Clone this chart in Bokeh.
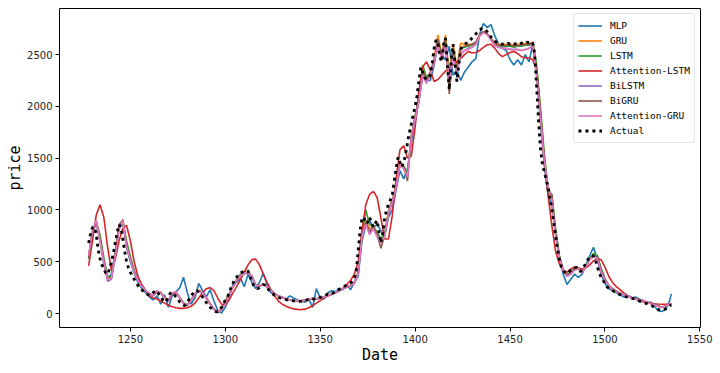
from bokeh.plotting import figure
from bokeh.models import FixedTicker, Range1d, Legend, LegendItem
from bokeh.embed import file_html
from bokeh.resources import INLINE

# ---- data ----
actual_dates = list(range(1228, 1536))
actual = [
    680, 770, 830, 835, 770, 620, 530, 470, 430, 390,
    380, 430, 500, 580, 680, 780, 860, 830, 720, 600,
    500, 440, 400, 360, 330, 300, 270, 250, 230, 210,
    195, 185, 175, 180, 200, 220, 215, 185, 160, 130,
    110, 120, 170, 195, 205, 185, 160, 140, 110, 90,
    80, 80, 110, 140, 170, 195, 215, 222, 205, 180,
    160, 130, 105, 85, 60, 45, 30, 18, 15, 35,
    60, 95, 130, 150, 200, 250, 290, 330, 350, 380,
    395, 400, 410, 415, 410, 360, 310, 265, 250, 240,
    250, 270, 280, 275, 250, 225, 205, 190, 175, 165,
    155, 150, 145, 140, 135, 130, 128, 125, 122, 120,
    118, 118, 118, 120, 122, 130, 140, 145, 142, 140,
    140, 145, 155, 165, 175, 180, 185, 180, 190, 200,
    215, 225, 235, 245, 255, 265, 275, 285, 295, 310,
    340, 420, 600, 800, 920, 930, 870, 880, 930, 880,
    835, 870, 900, 780, 680, 780, 930, 1000, 1060, 1100,
    1150, 1280, 1400, 1510, 1460, 1415, 1460, 1540, 1650, 1750,
    1830, 1920, 2000, 2100, 2250, 2380, 2330, 2280, 2260, 2280,
    2300, 2420, 2560, 2640, 2620, 2480, 2430, 2600, 2660, 2400,
    2160, 2450, 2600, 2420, 2240, 2400, 2550, 2580, 2600, 2610,
    2620, 2640, 2660, 2680, 2700, 2720, 2740, 2750, 2755, 2740,
    2720, 2700, 2670, 2650, 2630, 2620, 2610, 2605, 2600, 2605,
    2600, 2610, 2600, 2610, 2600, 2605, 2610, 2600, 2610, 2620,
    2610, 2620, 2615, 2625, 2610, 2510, 2190, 1870, 1600, 1450,
    1370, 1300, 1220, 1120, 1020, 880, 750, 620, 520, 450,
    415, 395, 385, 400, 420, 435, 440, 445, 430, 405,
    420, 455, 490, 520, 545, 560, 555, 520, 450, 390,
    350, 320, 290, 260, 245, 232, 222, 210, 200, 190,
    182, 175, 168, 162, 156, 150, 146, 143, 138, 130,
    122, 115, 109, 102, 95, 88, 80, 72, 62, 50,
    40, 32, 30, 35, 45, 60, 75, 82,
]

model_dates = list(range(1228, 1535, 2)) + [1535]

mlp = [
    530, 780, 880, 720, 480, 340, 380, 600, 840, 880,
    640, 500, 390, 300, 240, 200, 160, 130, 170, 90,
    180, 60, 170, 210, 250, 350, 200, 90, 150, 290,
    220, 160, 230, 120, 30, 5, 60, 150, 280, 300,
    340, 260, 380, 300, 240, 300, 390, 280, 200, 190,
    170, 160, 140, 170, 150, 130, 120, 110, 140, 60,
    240, 150, 140, 200, 220, 210, 240, 230, 280, 230,
    300, 360, 700, 850, 900, 830, 860, 800, 750, 930,
    1000, 1200, 1380, 1300, 1400, 1650, 1850, 2050, 2300, 2250,
    2250, 2400, 2600, 2500, 2450, 2580, 2300, 2350, 2250, 2330,
    2380, 2430, 2460, 2700, 2800, 2760, 2790, 2680, 2600, 2560,
    2540, 2450, 2400, 2450, 2400, 2500, 2430, 2600, 2300, 1850,
    1450, 1150, 1050, 800, 550, 380, 280, 330, 380, 350,
    380, 470, 560, 640, 520, 380, 290, 240, 220, 200,
    180, 160, 170, 150, 160, 140, 120, 100, 110, 70,
    30, 20, 40, 120, 190,
]

gru = [
    550, 790, 890, 710, 510, 340, 350, 570, 830, 910,
    660, 530, 410, 320, 265, 225, 190, 175, 215, 205,
    155, 120, 195, 210, 155, 100, 80, 130, 190, 225,
    205, 150, 95, 40, 15, 40, 115, 185, 255, 320,
    365, 385, 395, 360, 270, 265, 280, 255, 225, 190,
    170, 150, 140, 130, 125, 122, 122, 128, 140, 145,
    142, 148, 160, 175, 185, 200, 220, 240, 255, 270,
    295, 390, 760, 900, 820, 840, 780, 720, 760, 1000,
    1100, 1240, 1460, 1420, 1360, 1720, 1900, 2080, 2350, 2280,
    2330, 2460, 2690, 2500, 2690, 2300, 2600, 2380, 2610, 2600,
    2600, 2600, 2620, 2690, 2720, 2700, 2650, 2620, 2600, 2600,
    2600, 2600, 2590, 2600, 2600, 2610, 2600, 2620, 2350, 1950,
    1500, 1230, 1120, 780, 550, 420, 370, 390, 430, 430,
    400, 455, 530, 565, 540, 410, 330, 270, 235, 215,
    195, 185, 170, 155, 140, 130, 120, 110, 100, 90,
    75, 60, 75, 90, 95,
]

lstm = [
    530, 790, 890, 760, 540, 360, 350, 560, 830, 900,
    700, 550, 420, 330, 270, 225, 190, 175, 215, 205,
    155, 125, 195, 205, 155, 105, 80, 130, 190, 220,
    200, 150, 95, 45, 20, 40, 115, 185, 260, 330,
    380, 410, 400, 360, 275, 265, 280, 260, 230, 190,
    170, 155, 140, 130, 125, 124, 124, 130, 140, 145,
    142, 148, 160, 175, 185, 200, 220, 240, 255, 270,
    300, 400, 760, 1000, 860, 840, 780, 720, 780, 980,
    1090, 1220, 1440, 1420, 1360, 1700, 1900, 2080, 2400, 2280,
    2320, 2430, 2640, 2500, 2620, 2250, 2560, 2340, 2560, 2570,
    2580, 2590, 2610, 2680, 2720, 2700, 2640, 2600, 2590, 2580,
    2580, 2580, 2570, 2580, 2580, 2590, 2590, 2610, 2400, 2000,
    1560, 1200, 1150, 820, 560, 420, 380, 400, 440, 440,
    410, 460, 530, 580, 560, 440, 340, 270, 240, 215,
    195, 185, 170, 155, 145, 135, 125, 110, 100, 90,
    75, 60, 70, 85, 95,
]

att_lstm = [
    460, 700, 950, 1050, 930, 640, 420, 520, 700, 820,
    850, 700, 500, 360, 280, 220, 170, 150, 140, 120,
    100, 80, 65, 55, 50, 50, 55, 70, 100, 150,
    200, 240, 250, 220, 150, 90, 80, 130, 200, 260,
    330, 400, 470, 520, 525, 470, 380, 300, 230, 170,
    120, 90, 70, 55, 45, 40, 38, 42, 55, 75,
    100, 125, 150, 170, 185, 200, 220, 245, 280, 320,
    380, 500, 800, 1050, 1150, 1180, 1120, 920, 720, 720,
    950, 1300, 1580, 1620, 1500, 1520, 1800, 2150, 2380, 2430,
    2350, 2240, 2260, 2300, 2340, 2370, 2400, 2430, 2460, 2500,
    2530, 2515, 2520, 2540, 2570, 2595, 2600, 2560, 2510, 2480,
    2500, 2520, 2530, 2510, 2480, 2470, 2470, 2450, 2350, 1950,
    1500, 1150, 850, 600, 480, 420, 400, 430, 450, 440,
    430, 440, 470, 510, 530, 520, 450, 360, 300, 260,
    230, 200, 175, 155, 140, 125, 115, 105, 100, 95,
    92, 90, 90, 90, 90,
]

bilstm = [
    550, 790, 880, 700, 490, 310, 330, 550, 810, 890,
    640, 510, 400, 320, 265, 222, 190, 172, 212, 198,
    150, 120, 188, 200, 150, 100, 78, 128, 188, 218,
    198, 150, 92, 42, 18, 38, 115, 185, 255, 318,
    365, 385, 395, 358, 272, 268, 282, 258, 225, 190,
    170, 155, 140, 130, 125, 124, 124, 130, 140, 145,
    142, 148, 160, 175, 185, 200, 220, 240, 255, 270,
    295, 380, 740, 860, 770, 820, 740, 690, 750, 960,
    1070, 1210, 1430, 1400, 1330, 1700, 1870, 2050, 2300, 2230,
    2310, 2420, 2610, 2460, 2590, 2260, 2490, 2330, 2510, 2540,
    2560, 2570, 2600, 2680, 2720, 2700, 2640, 2590, 2570, 2560,
    2560, 2550, 2550, 2550, 2540, 2550, 2560, 2590, 2320, 1920,
    1480, 1220, 1100, 760, 540, 420, 360, 380, 420, 430,
    400, 450, 520, 555, 530, 410, 325, 270, 232, 212,
    195, 185, 170, 152, 142, 132, 124, 110, 98, 88,
    72, 58, 72, 88, 95,
]

bigru = [
    540, 790, 890, 720, 510, 340, 340, 580, 860, 900,
    660, 520, 405, 320, 265, 222, 190, 175, 215, 200,
    150, 122, 192, 205, 152, 100, 78, 130, 190, 222,
    200, 150, 92, 42, 16, 40, 118, 188, 258, 322,
    368, 388, 400, 362, 272, 268, 284, 260, 228, 192,
    170, 155, 140, 130, 125, 124, 124, 130, 140, 145,
    142, 148, 160, 175, 185, 200, 220, 240, 255, 270,
    295, 385, 760, 880, 790, 840, 760, 630, 760, 980,
    1090, 1230, 1450, 1410, 1280, 1710, 1890, 2070, 2340, 2260,
    2320, 2440, 2650, 2480, 2660, 2120, 2560, 2300, 2560, 2580,
    2590, 2600, 2620, 2690, 2720, 2700, 2650, 2610, 2590, 2590,
    2590, 2590, 2580, 2590, 2590, 2600, 2600, 2620, 2350, 1900,
    1450, 1170, 1150, 780, 550, 420, 370, 390, 430, 430,
    400, 455, 525, 560, 540, 415, 330, 272, 236, 215,
    195, 185, 170, 155, 142, 132, 125, 112, 100, 90,
    74, 60, 74, 88, 95,
]

att_gru = [
    560, 800, 900, 700, 500, 330, 340, 560, 820, 900,
    650, 520, 400, 320, 260, 220, 190, 175, 220, 200,
    150, 125, 200, 210, 150, 100, 75, 130, 190, 220,
    200, 150, 90, 40, 15, 35, 90, 170, 260, 320,
    370, 390, 400, 360, 270, 270, 285, 260, 225, 190,
    170, 155, 140, 130, 125, 125, 125, 130, 140, 145,
    142, 148, 160, 175, 185, 200, 220, 240, 255, 270,
    295, 380, 750, 860, 760, 820, 740, 680, 740, 980,
    1080, 1220, 1440, 1400, 1320, 1700, 1880, 2050, 2300, 2220,
    2300, 2420, 2600, 2450, 2580, 2250, 2480, 2320, 2500, 2540,
    2550, 2570, 2600, 2680, 2710, 2690, 2640, 2590, 2570, 2560,
    2560, 2550, 2545, 2550, 2540, 2550, 2560, 2590, 2300, 1900,
    1480, 1230, 1100, 760, 540, 420, 360, 380, 420, 430,
    400, 450, 520, 560, 530, 400, 320, 270, 230, 210,
    195, 185, 170, 150, 140, 130, 125, 110, 95, 85,
    70, 60, 75, 90, 95,
]

series_names = ["MLP", "GRU", "LSTM", "Attention-LSTM", "BiLSTM", "BiGRU", "Attention-GRU"]
series_values = [mlp, gru, lstm, att_lstm, bilstm, bigru, att_gru]
colors = ["#1f77b4", "#ff7f0e", "#2ca02c", "#d62728", "#9467bd", "#8c564b", "#e377c2"]

x_ticks = [1250, 1300, 1350, 1400, 1450, 1500, 1550]
y_ticks = [0, 500, 1000, 1500, 2000, 2500]

# ---- figure ----
p = figure(width=720, height=373, output_backend="svg", toolbar_location=None,
           x_range=Range1d(1212.65, 1550.35), y_range=Range1d(-135, 2945),
           min_border_left=59, min_border_right=20, min_border_top=8, min_border_bottom=46)
p.background_fill_color = "white"
p.border_fill_color = "white"
p.outline_line_color = "black"
p.outline_line_width = 1
p.xgrid.visible = False
p.ygrid.visible = False

items = []
for name, vals, col in zip(series_names, series_values, colors):
    r = p.line(model_dates, vals, line_color=col, line_width=1.6)
    items.append(LegendItem(label=name, renderers=[r]))
ra = p.line(actual_dates, actual, line_color="black", line_width=2.8, line_dash="3 4")
items.append(LegendItem(label="Actual", renderers=[ra]))

for ax in (p.xaxis[0], p.yaxis[0]):
    ax.axis_line_color = None
    ax.major_tick_line_color = "black"
    ax.major_tick_in = 0
    ax.major_tick_out = 4
    ax.minor_tick_line_color = None
    ax.major_label_text_font = "DejaVu Sans"
    ax.major_label_text_font_size = "10px"
    ax.major_label_text_color = "#222222"
    ax.axis_label_text_font = "DejaVu Sans Mono"
    ax.axis_label_text_font_size = "15px"
    ax.axis_label_text_font_style = "normal"
    ax.axis_label_text_color = "black"
    ax.major_label_standoff = 3

p.xaxis.ticker = FixedTicker(ticks=x_ticks)
p.yaxis.ticker = FixedTicker(ticks=y_ticks)
p.xaxis.axis_label = "Date"
p.yaxis.axis_label = "price"
p.xaxis.axis_label_standoff = 0
p.yaxis.axis_label_standoff = 0

legend = Legend(items=items, location="top_right")
legend.label_text_font = "DejaVu Sans Mono"
legend.label_text_font_size = "9.5px"
legend.label_text_color = "black"
legend.glyph_width = 24
legend.glyph_height = 15
legend.label_height = 15
legend.label_standoff = 8
legend.spacing = 0
legend.padding = 4
legend.margin = 5
legend.border_line_color = "#cccccc"
legend.border_line_width = 1
legend.border_radius = 3
legend.background_fill_color = "white"
legend.background_fill_alpha = 0.8
p.add_layout(legend)

open("out.html", "w").write(file_html(p, INLINE))
